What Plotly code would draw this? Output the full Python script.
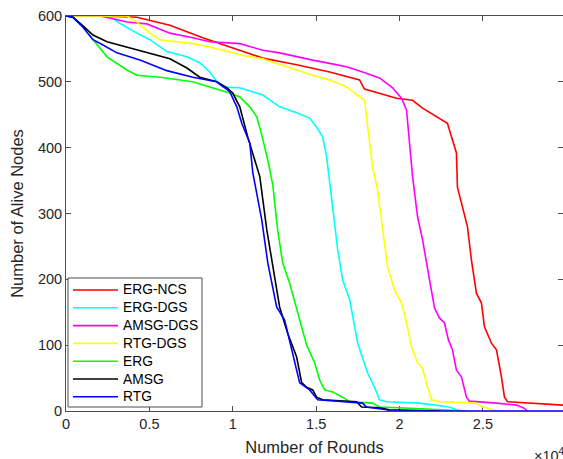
import plotly.graph_objects as go

# ---- data (rounds, alive nodes) ----
erg_ncs_x = [0, 2200, 4250, 6230, 8200, 10420, 11800, 13830, 15810, 17600, 17900, 19820, 20780, 21380,
             22580, 22870, 23170, 23410, 23470, 23770, 24070, 24310, 24610, 24910, 25090, 25510, 25810,
             26110, 26290, 26470, 29800]
erg_ncs_y = [600, 600, 598, 586, 567, 548, 536, 526, 515, 503, 489, 475, 472, 460,
             442, 437, 412, 392, 340, 310, 280, 229, 179, 164, 128, 103, 93,
             52, 21, 14, 9]

erg_dgs_x = [0, 2630, 3230, 4250, 5030, 6050, 7250, 8020, 8620, 9040, 9400, 10420, 11800, 12810, 13830,
             14610, 15030, 15390, 15630, 15990, 16290, 16590, 17010, 17490, 17780, 18080, 18500, 18800,
             19220, 21200, 22990, 23410, 23600]
erg_dgs_y = [600, 600, 589, 574, 564, 546, 538, 529, 515, 500, 492, 491, 480, 462, 453,
             445, 431, 416, 386, 305, 245, 199, 169, 103, 80, 58, 36, 17,
             14, 12, 6, 2, 0]

amsg_dgs_x = [0, 2040, 2630, 3650, 4850, 6230, 7600, 8620, 10420, 11800, 12810, 13830, 14790, 15810,
              16830, 17780, 18800, 19580, 20120, 20420, 20600, 20780, 21080, 21380, 21800, 22100, 22400,
              22690, 22930, 23170, 23410, 23710, 24010, 24190, 25810, 27010, 27490, 27660]
amsg_dgs_y = [600, 600, 597, 591, 588, 574, 567, 561, 558, 548, 544, 538, 533, 528,
              523, 515, 506, 491, 475, 457, 407, 356, 295, 260, 199, 156, 141,
              134, 108, 93, 62, 52, 21, 15, 12, 9, 4, 0]

rtg_dgs_x = [0, 3650, 4250, 5030, 5630, 7600, 8620, 10000, 10840, 11800, 12810, 13830, 14790, 15810,
             16830, 17600, 17900, 18080, 18380, 18680, 19100, 19280, 19700, 20120, 20420, 20720, 21080,
             21380, 21680, 21920, 22400, 24610, 24970, 25570, 25900]
rtg_dgs_y = [600, 600, 591, 574, 564, 558, 553, 544, 539, 535, 526, 518, 510, 503,
             492, 477, 472, 434, 371, 336, 255, 219, 184, 164, 134, 97, 73,
             65, 36, 17, 14, 12, 6, 2, 0]

erg_x = [0, 420, 1020, 1620, 2460, 3650, 4250, 5630, 7600, 8620, 9820, 10420, 11020, 11440, 11740,
         12100, 12400, 12690, 12990, 13410, 14010, 14430, 14910, 15210, 15510, 15990, 16590, 17010,
         18380, 18800, 21620, 24010]
erg_y = [600, 598, 583, 564, 538, 518, 510, 507, 500, 492, 483, 477, 462, 447, 419,
         381, 343, 275, 225, 194, 138, 100, 73, 47, 32, 29, 21, 14,
         12, 6, 3, 0]

amsg_x = [0, 420, 1020, 1620, 2460, 3650, 5030, 6230, 7250, 8020, 9040, 9640, 10000, 10420, 10900,
          11620, 12040, 12400, 12810, 13290, 13830, 14130, 14430, 14790, 15030, 15390, 17430, 17720,
          18800, 19400, 22400]
amsg_y = [600, 598, 585, 571, 561, 553, 544, 535, 521, 507, 500, 491, 483, 462, 416,
          356, 275, 219, 158, 118, 82, 43, 36, 32, 21, 17, 14, 6,
          5, 2, 0]

rtg_x = [0, 420, 1020, 1620, 2220, 3050, 4430, 6050, 7600, 9040, 9820, 10240, 10540, 11020, 11200,
         11740, 12100, 12630, 13110, 13590, 14010, 14610, 15090, 17780, 18020, 19220, 19400, 29800]
rtg_y = [600, 598, 583, 564, 556, 544, 533, 517, 507, 500, 485, 462, 437, 407, 362,
         290, 225, 158, 138, 88, 43, 32, 17, 12, 6, 2, 0, 0]

series_names = ["ERG-NCS", "ERG-DGS", "AMSG-DGS", "RTG-DGS", "ERG", "AMSG", "RTG"]
series_x = [erg_ncs_x, erg_dgs_x, amsg_dgs_x, rtg_dgs_x, erg_x, amsg_x, rtg_x]
series_y = [erg_ncs_y, erg_dgs_y, amsg_dgs_y, rtg_dgs_y, erg_y, amsg_y, rtg_y]
series_colors = ["#FF0000", "#00FFFF", "#FF00FF", "#FFFF00", "#00FF00", "#000000", "#0000FF"]

x_tickvals = [0, 5000, 10000, 15000, 20000, 25000]
x_ticktext = ["0", "0.5", "1", "1.5", "2", "2.5"]
y_tickvals = [0, 100, 200, 300, 400, 500, 600]

fig = go.Figure()
for name, xs, ys, c in zip(series_names, series_x, series_y, series_colors):
    fig.add_trace(go.Scatter(x=xs, y=ys, mode="lines", name=name,
                             line=dict(color=c, width=1.6), showlegend=False))

axis_col = "#4d4d4d"
font_fam = "Liberation Sans, Arial, sans-serif"

# plot-area geometry (pixels) used to place the hand-built legend
L, R, T, B = 66, 563, 16, 411
W, H = R - L, B - T
def px(xp):
    return (xp - L) / W
def py(yp):
    return (B - yp) / H

fig.update_layout(
    width=563, height=459,
    margin=dict(l=L, r=563 - R, t=T, b=459 - B),
    paper_bgcolor="white", plot_bgcolor="white",
    font=dict(family=font_fam, color="#262626", size=14.5),
    showlegend=False,
    xaxis=dict(range=[0, 29800], tickvals=x_tickvals, ticktext=x_ticktext,
               showgrid=False, zeroline=False, showline=True, linecolor=axis_col, linewidth=1,
               mirror="allticks", ticks="inside", ticklen=5, tickcolor=axis_col,
               layer="below traces",
               title=dict(text="Number of Rounds", font=dict(size=16.5), standoff=10)),
    yaxis=dict(range=[0, 600], tickvals=y_tickvals,
               showgrid=False, zeroline=False, showline=True, linecolor=axis_col, linewidth=1,
               mirror="allticks", ticks="inside", ticklen=5, tickcolor=axis_col,
               layer="below traces",
               title=dict(text="Number of Alive Nodes", font=dict(size=16.5), standoff=10)),
)

# legend box (MATLAB style, bottom-left)
fig.add_shape(type="rect", xref="paper", yref="paper", layer="above",
              x0=px(68), x1=px(202), y0=py(407), y1=py(278),
              fillcolor="white", line=dict(color=axis_col, width=1))
for i, (name, c) in enumerate(zip(series_names, series_colors)):
    yy = 290 + i * 17.8
    fig.add_shape(type="line", xref="paper", yref="paper", layer="above",
                  x0=px(73), x1=px(118), y0=py(yy), y1=py(yy),
                  line=dict(color=c, width=1.6))
    fig.add_annotation(text=name, xref="paper", yref="paper",
                       x=px(121), y=py(yy), xanchor="left", yanchor="middle",
                       showarrow=False, font=dict(size=13.8, family=font_fam, color="#000000"))

fig.add_annotation(text="×10<sup>4</sup>", xref="paper", yref="paper",
                   x=px(532), y=py(455), xanchor="left", yanchor="middle",
                   showarrow=False, font=dict(size=14.5, family=font_fam, color="#262626"))

fig.write_html("out.html")
